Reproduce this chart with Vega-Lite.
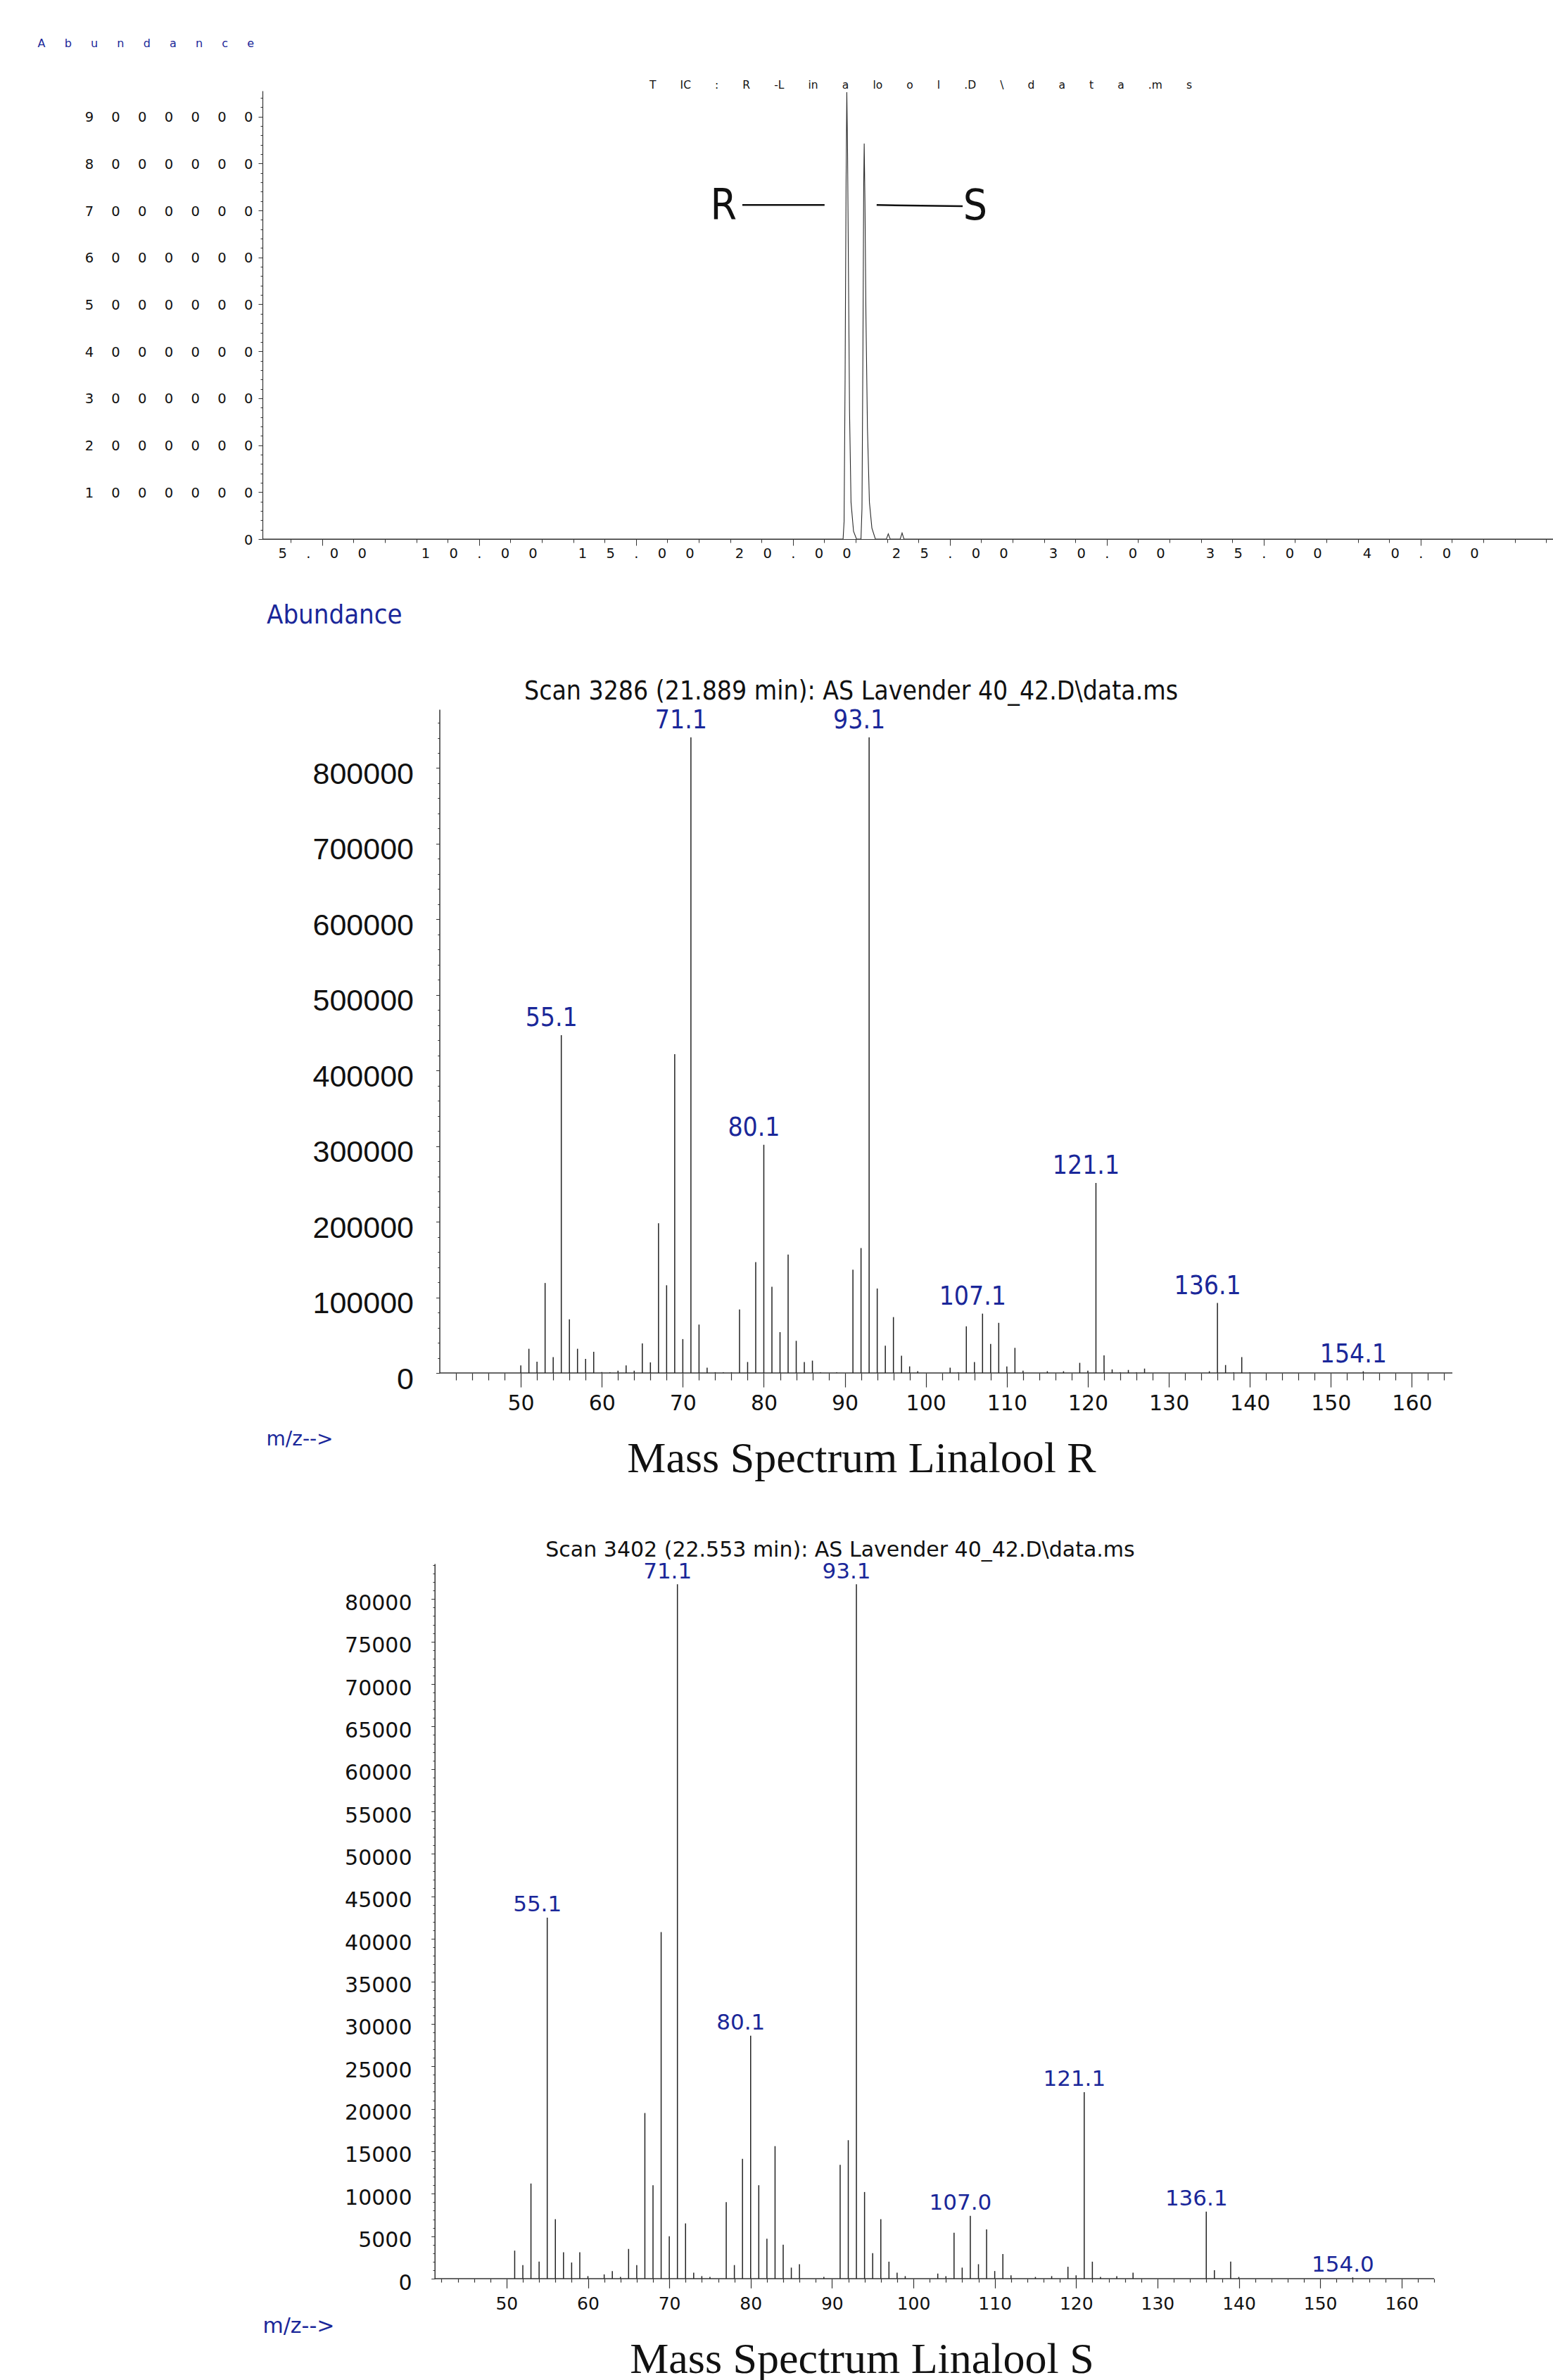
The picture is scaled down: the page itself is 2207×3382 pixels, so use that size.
{
  "$schema": "https://vega.github.io/schema/vega-lite/v6.json",
  "padding": {"left": 53, "top": 53, "right": 0, "bottom": 0},
  "background": "white",
  "usermeta": {"embedOptions": {"actions": false}},
  "config": {"view": {"stroke": null}, "axis": {"grid": false, "labelLimit": 600}},
  "datasets": {
    "tic": [
      {"t": 3.1, "a": 0}, {"t": 21.6, "a": 0}, {"t": 21.632, "a": 372000}, {"t": 21.664, "a": 3400000},
      {"t": 21.695, "a": 7530000}, {"t": 21.719, "a": 9520000}, {"t": 21.743, "a": 8220000}, {"t": 21.774, "a": 5470000},
      {"t": 21.806, "a": 2710000}, {"t": 21.853, "a": 785000}, {"t": 21.933, "a": 166000}, {"t": 22.028, "a": 0},
      {"t": 22.17, "a": 0}, {"t": 22.202, "a": 648000}, {"t": 22.233, "a": 4090000}, {"t": 22.257, "a": 7530000},
      {"t": 22.273, "a": 8426000}, {"t": 22.297, "a": 7190000}, {"t": 22.328, "a": 4780000}, {"t": 22.376, "a": 2370000},
      {"t": 22.439, "a": 785000}, {"t": 22.518, "a": 235000}, {"t": 22.629, "a": 0},
      {"t": 22.98, "a": 0}, {"t": 23.04, "a": 110000}, {"t": 23.1, "a": 0},
      {"t": 23.42, "a": 0}, {"t": 23.48, "a": 130000}, {"t": 23.54, "a": 0}, {"t": 44.22, "a": 0}
    ],
    "ticLines": [
      {"x1": 18.39, "x2": 21.01, "y1": 7117000, "y2": 7117000},
      {"x1": 22.67, "x2": 25.41, "y1": 7117000, "y2": 7090000}
    ],
    "ticText": [
      {"t": 17.79, "a": 6807000, "label": "R"},
      {"t": 25.81, "a": 6807000, "label": "S"}
    ],
    "baseR": [{"x1": 40, "x2": 165, "y": 0}],
    "baseS": [{"x1": 41.17, "x2": 164, "y": 0}],
    "msR": [
      {"mz": 50, "ab": 9900}, {"mz": 51, "ab": 32000}, {"mz": 52, "ab": 15000}, {"mz": 53, "ab": 119000},
      {"mz": 54, "ab": 21000}, {"mz": 55, "ab": 446700, "label": "55.1"}, {"mz": 56, "ab": 71000}, {"mz": 57, "ab": 32000},
      {"mz": 58, "ab": 18600}, {"mz": 59, "ab": 28000}, {"mz": 60, "ab": 1200}, {"mz": 61, "ab": 1000},
      {"mz": 62, "ab": 3000}, {"mz": 63, "ab": 10000}, {"mz": 64, "ab": 3000}, {"mz": 65, "ab": 39000},
      {"mz": 66, "ab": 14000}, {"mz": 67, "ab": 198000}, {"mz": 68, "ab": 116000}, {"mz": 69, "ab": 421700},
      {"mz": 70, "ab": 44800}, {"mz": 71, "ab": 840600, "label": "71.1"}, {"mz": 72, "ab": 64000}, {"mz": 73, "ab": 7000},
      {"mz": 74, "ab": 1000}, {"mz": 75, "ab": 1000}, {"mz": 76, "ab": 1000}, {"mz": 77, "ab": 84000},
      {"mz": 78, "ab": 14500}, {"mz": 79, "ab": 146600}, {"mz": 80, "ab": 301900, "label": "80.1"}, {"mz": 81, "ab": 114000},
      {"mz": 82, "ab": 54000}, {"mz": 83, "ab": 156500}, {"mz": 84, "ab": 42500}, {"mz": 85, "ab": 14500},
      {"mz": 86, "ab": 16300}, {"mz": 87, "ab": 1000}, {"mz": 89, "ab": 1000}, {"mz": 91, "ab": 136700},
      {"mz": 92, "ab": 165200}, {"mz": 93, "ab": 840600, "label": "93.1"}, {"mz": 94, "ab": 111700}, {"mz": 95, "ab": 36000},
      {"mz": 96, "ab": 73900}, {"mz": 97, "ab": 22700}, {"mz": 98, "ab": 8700}, {"mz": 99, "ab": 2300},
      {"mz": 103, "ab": 7000}, {"mz": 104, "ab": 1000}, {"mz": 105, "ab": 61700}, {"mz": 106, "ab": 14500},
      {"mz": 107, "ab": 78500, "label": "107.1"}, {"mz": 108, "ab": 38400}, {"mz": 109, "ab": 66300}, {"mz": 110, "ab": 8700},
      {"mz": 111, "ab": 33200}, {"mz": 112, "ab": 3000}, {"mz": 115, "ab": 2300}, {"mz": 117, "ab": 2300},
      {"mz": 119, "ab": 13400}, {"mz": 120, "ab": 3000}, {"mz": 121, "ab": 251300, "label": "121.1"}, {"mz": 122, "ab": 23300},
      {"mz": 123, "ab": 4700}, {"mz": 124, "ab": 1000}, {"mz": 125, "ab": 4000}, {"mz": 126, "ab": 1000},
      {"mz": 127, "ab": 5800}, {"mz": 135, "ab": 2300}, {"mz": 136, "ab": 92500, "label": "136.1"}, {"mz": 137, "ab": 10500},
      {"mz": 138, "ab": 1000}, {"mz": 139, "ab": 21000}, {"mz": 140, "ab": 1000}, {"mz": 154, "ab": 2300, "label": "154.1"}
    ],
    "msS": [
      {"mz": 51, "ab": 3300}, {"mz": 52, "ab": 1600}, {"mz": 53, "ab": 11200}, {"mz": 54, "ab": 2000},
      {"mz": 55, "ab": 42500, "label": "55.1"}, {"mz": 56, "ab": 7000}, {"mz": 57, "ab": 3100}, {"mz": 58, "ab": 1900},
      {"mz": 59, "ab": 3100}, {"mz": 60, "ab": 300}, {"mz": 62, "ab": 500}, {"mz": 63, "ab": 900},
      {"mz": 64, "ab": 200}, {"mz": 65, "ab": 3500}, {"mz": 66, "ab": 1600}, {"mz": 67, "ab": 19500},
      {"mz": 68, "ab": 11000}, {"mz": 69, "ab": 40800}, {"mz": 70, "ab": 5000}, {"mz": 71, "ab": 81750, "label": "71.1"},
      {"mz": 72, "ab": 6500}, {"mz": 73, "ab": 700}, {"mz": 74, "ab": 300}, {"mz": 75, "ab": 200},
      {"mz": 77, "ab": 9000}, {"mz": 78, "ab": 1600}, {"mz": 79, "ab": 14100}, {"mz": 80, "ab": 28600, "label": "80.1"},
      {"mz": 81, "ab": 11000}, {"mz": 82, "ab": 4700}, {"mz": 83, "ab": 15600}, {"mz": 84, "ab": 4000},
      {"mz": 85, "ab": 1300}, {"mz": 86, "ab": 1700}, {"mz": 89, "ab": 200}, {"mz": 91, "ab": 13400},
      {"mz": 92, "ab": 16300}, {"mz": 93, "ab": 81750, "label": "93.1"}, {"mz": 94, "ab": 10200}, {"mz": 95, "ab": 3000},
      {"mz": 96, "ab": 7000}, {"mz": 97, "ab": 2000}, {"mz": 98, "ab": 700}, {"mz": 99, "ab": 300},
      {"mz": 103, "ab": 600}, {"mz": 104, "ab": 300}, {"mz": 105, "ab": 5400}, {"mz": 106, "ab": 1300},
      {"mz": 107, "ab": 7400, "label": "107.0"}, {"mz": 108, "ab": 1700}, {"mz": 109, "ab": 5800}, {"mz": 110, "ab": 900},
      {"mz": 111, "ab": 2900}, {"mz": 112, "ab": 400}, {"mz": 115, "ab": 200}, {"mz": 117, "ab": 300},
      {"mz": 119, "ab": 1400}, {"mz": 120, "ab": 400}, {"mz": 121, "ab": 21960, "label": "121.1"}, {"mz": 122, "ab": 2000},
      {"mz": 123, "ab": 200}, {"mz": 125, "ab": 300}, {"mz": 127, "ab": 700}, {"mz": 136, "ab": 7900, "label": "136.1"},
      {"mz": 137, "ab": 1000}, {"mz": 139, "ab": 2000}, {"mz": 140, "ab": 200}, {"mz": 154, "ab": 150, "label": "154.0"}
    ]
  },
  "spacing": 242,
  "bounds": "flush",
  "vconcat": [
    {
      "width": 1834,
      "height": 637,
      "resolve": {"axis": {"x": "independent", "y": "independent"}},
      "layer": [
        {
          "data": {"name": "tic"},
          "mark": {"type": "line", "stroke": "#2b2b2b", "strokeWidth": 1.1},
          "encoding": {
            "x": {
              "field": "t", "type": "quantitative",
              "scale": {"domain": [3.1, 44.22], "nice": false, "zero": false},
              "axis": {
                "orient": "bottom",
                "values": [4,5,6,7,8,9,10,11,12,13,14,15,16,17,18,19,20,21,22,23,24,25,26,27,28,29,30,31,32,33,34,35,36,37,38,39,40,41,42,43,44],
                "labelExpr": "datum.value % 5 === 0 ? join(split(format(datum.value, '.2f'), ''), '\u2003\u2009\u2009') : ''",
                "tickSize": {"condition": {"test": "datum.value % 5 === 0", "value": 9}, "value": 5},
                "tickColor": "#333", "tickWidth": 1, "domainColor": "#333", "domainWidth": 1.2,
                "labelFont": "DejaVu Sans", "labelFontSize": 19.5, "labelColor": "#111",
                "labelBaseline": "top", "labelPadding": 2.6, "labelLimit": 600,
                "labelOverlap": false, "labelBound": false, "labelFlush": false,
                "title": null, "grid": false
              }
            },
            "y": {
              "field": "a", "type": "quantitative",
              "scale": {"domain": [0, 9550000], "nice": false},
              "axis": {
                "orient": "left",
                "values": [0,200000,400000,600000,800000,1000000,1200000,1400000,1600000,1800000,2000000,2200000,2400000,2600000,2800000,3000000,3200000,3400000,3600000,3800000,4000000,4200000,4400000,4600000,4800000,5000000,5200000,5400000,5600000,5800000,6000000,6200000,6400000,6600000,6800000,7000000,7200000,7400000,7600000,7800000,8000000,8200000,8400000,8600000,8800000,9000000,9200000,9400000],
                "labelExpr": "datum.value % 1000000 === 0 ? join(split(format(datum.value, 'd'), ''), '\u2003\u2009\u200A') : ''",
                "tickSize": {"condition": {"test": "datum.value % 1000000 === 0", "value": 6}, "value": 3},
                "tickColor": "#333", "tickWidth": 1, "domainColor": "#333", "domainWidth": 1.2,
                "labelFont": "DejaVu Sans", "labelFontSize": 19.5, "labelColor": "#111",
                "labelBaseline": "middle", "labelAlign": "right", "labelPadding": 8, "labelOffset": 1, "labelLimit": 600,
                "labelOverlap": false, "labelBound": false, "labelFlush": false,
                "title": "A\u2003\u2002\u2009b\u2003\u2002\u2009u\u2003\u2002\u2009n\u2003\u2002\u2009d\u2003\u2002\u2009a\u2003\u2002\u2009n\u2003\u2002\u2009c\u2003\u2002\u2009e",
                "titleX": -320, "titleY": -63, "titleAngle": 0, "titleAlign": "left", "titleBaseline": "alphabetic",
                "titleFont": "DejaVu Sans", "titleFontSize": 16, "titleFontWeight": "normal", "titleColor": "#1a2799",
                "titleLimit": 1000, "grid": false
              }
            }
          }
        },
        {
          "data": {"name": "ticLines"},
          "mark": {"type": "rule", "stroke": "#111", "strokeWidth": 2.5},
          "encoding": {
            "x": {"field": "x1", "type": "quantitative", "scale": {"domain": [3.1, 44.22], "nice": false, "zero": false}, "axis": null},
            "x2": {"field": "x2"},
            "y": {"field": "y1", "type": "quantitative", "scale": {"domain": [0, 9550000], "nice": false}, "axis": null},
            "y2": {"field": "y2"}
          }
        },
        {
          "data": {"name": "ticText"},
          "mark": {"type": "text", "font": "Liberation Sans Narrow, DejaVu Sans Condensed, Liberation Sans", "fontSize": 60, "baseline": "alphabetic", "align": "center", "color": "#111"},
          "encoding": {
            "x": {
              "field": "t", "type": "quantitative",
              "scale": {"domain": [3.1, 44.22], "nice": false, "zero": false},
              "axis": {
                "orient": "top", "domain": false, "ticks": false, "labels": false, "grid": false,
                "title": "T\u2003\u2003\u2009IC\u2003\u2003\u2009:\u2003\u2003\u2009R\u2003\u2003\u2009-L\u2003\u2003\u2009in\u2003\u2003\u2009a\u2003\u2003\u2009lo\u2003\u2003\u2009o\u2003\u2003\u2009l\u2003\u2003\u2009.D\u2003\u2003\u2009\\\u2003\u2003\u2009d\u2003\u2003\u2009a\u2003\u2003\u2009t\u2003\u2003\u2009a\u2003\u2003\u2009.m\u2003\u2003\u2009s",
                "titleX": 935, "titleY": -4, "titleAngle": 0, "titleAlign": "center", "titleBaseline": "alphabetic",
                "titleFont": "DejaVu Sans", "titleFontSize": 15.5, "titleFontWeight": "normal", "titleColor": "#111",
                "titleLimit": 2000
              }
            },
            "y": {"field": "a", "type": "quantitative", "scale": {"domain": [0, 9550000], "nice": false}, "axis": null},
            "text": {"field": "label"}
          }
        }
      ]
    },
    {
      "spacing": 271,
      "bounds": "flush",
      "vconcat": [
        {
          "width": 1691,
          "height": 943,
          "resolve": {"axis": {"x": "independent", "y": "independent"}},
          "layer": [
            {
              "data": {"name": "baseR"},
              "mark": {"type": "rule", "stroke": "#333", "strokeWidth": 1.5},
              "encoding": {
                "x": {"field": "x1", "type": "quantitative", "scale": {"domain": [18.11, 165], "nice": false, "zero": false}, "axis": null},
                "x2": {"field": "x2"},
                "y": {"field": "y", "type": "quantitative", "scale": {"domain": [0, 877700], "nice": false}, "axis": null}
              }
            },
            {
              "data": {"name": "msR"},
              "mark": {"type": "rule", "stroke": "#222", "strokeWidth": 1.5},
              "encoding": {
                "x": {
                  "field": "mz", "type": "quantitative",
                  "scale": {"domain": [18.11, 165], "nice": false, "zero": false},
                  "axis": {
                    "orient": "bottom", "domain": false,
                    "values": [42,44,46,48,50,52,54,56,58,60,62,64,66,68,70,72,74,76,78,80,82,84,86,88,90,92,94,96,98,100,102,104,106,108,110,112,114,116,118,120,122,124,126,128,130,132,134,136,138,140,142,144,146,148,150,152,154,156,158,160,162,164],
                    "labelExpr": "datum.value % 10 === 0 ? format(datum.value, 'd') : ''",
                    "tickSize": {"condition": {"test": "datum.value % 10 === 0", "value": 20}, "value": 10},
                    "tickColor": "#333", "tickWidth": 1.2,
                    "labelFont": "DejaVu Sans", "labelFontSize": 30, "labelColor": "#111",
                    "labelBaseline": "top", "labelPadding": 8.7,
                    "labelOverlap": false, "labelBound": false, "labelFlush": false, "grid": false,
                    "title": "Mass Spectrum Linalool R",
                    "titleX": 851, "titleY": 140, "titleAngle": 0, "titleAlign": "center", "titleBaseline": "alphabetic",
                    "titleFont": "Liberation Serif", "titleFontSize": 62, "titleFontWeight": "normal", "titleColor": "#111",
                    "titleLimit": 2000
                  }
                },
                "y": {
                  "field": "ab", "type": "quantitative",
                  "scale": {"domain": [0, 877700], "nice": false},
                  "axis": {
                    "orient": "left", "offset": -251.5,
                    "values": [0,20000,40000,60000,80000,100000,120000,140000,160000,180000,200000,220000,240000,260000,280000,300000,320000,340000,360000,380000,400000,420000,440000,460000,480000,500000,520000,540000,560000,580000,600000,620000,640000,660000,680000,700000,720000,740000,760000,780000,800000,820000,840000,860000],
                    "labelExpr": "datum.value % 100000 === 0 ? format(datum.value, 'd') : ''",
                    "tickSize": {"condition": {"test": "datum.value % 100000 === 0", "value": 5}, "value": 2.7},
                    "tickColor": "#333", "tickWidth": 1, "domainColor": "#333", "domainWidth": 1.5,
                    "labelFont": "Liberation Sans", "labelFontSize": 43, "labelColor": "#111",
                    "labelBaseline": "middle", "labelAlign": "right", "labelPadding": 32, "labelOffset": 9,
                    "labelOverlap": false, "labelBound": false, "labelFlush": false, "grid": false,
                    "title": "Abundance",
                    "titleX": -246, "titleY": -122.3, "titleAngle": 0, "titleAlign": "left", "titleBaseline": "alphabetic",
                    "titleFont": "Liberation Sans Narrow, DejaVu Sans Condensed, Liberation Sans", "titleFontSize": 38, "titleFontWeight": "normal", "titleColor": "#1a2799",
                    "titleLimit": 1000
                  }
                },
                "y2": {"datum": 0}
              }
            },
            {
              "data": {"name": "msR"},
              "transform": [{"filter": "datum.label"}],
              "mark": {"type": "text", "font": "Liberation Sans Narrow, DejaVu Sans Condensed, Liberation Sans", "fontSize": 37, "color": "#1a2799", "align": "center", "baseline": "alphabetic", "dx": -14, "dy": -13},
              "encoding": {
                "x": {
                  "field": "mz", "type": "quantitative",
                  "scale": {"domain": [18.11, 165], "nice": false, "zero": false},
                  "axis": {
                    "orient": "top", "domain": false, "ticks": false, "labels": false, "grid": false,
                    "title": "Scan 3286 (21.889 min): AS Lavender 40_42.D\\data.ms",
                    "titleX": 836, "titleY": -15, "titleAngle": 0, "titleAlign": "center", "titleBaseline": "alphabetic",
                    "titleFont": "Liberation Sans Narrow, DejaVu Sans Condensed, Liberation Sans", "titleFontSize": 37, "titleFontWeight": "normal", "titleColor": "#111",
                    "titleLimit": 2000
                  }
                },
                "y": {
                  "field": "ab", "type": "quantitative",
                  "scale": {"domain": [0, 877700], "nice": false},
                  "axis": {
                    "orient": "right", "domain": false, "ticks": false, "labels": false, "grid": false,
                    "title": "m/z-->",
                    "titleX": -1686, "titleY": 1037, "titleAngle": 0, "titleAlign": "left", "titleBaseline": "middle",
                    "titleFont": "DejaVu Sans", "titleFontSize": 28, "titleFontWeight": "normal", "titleColor": "#1a2799"
                  }
                },
                "text": {"field": "label"}
              }
            }
          ]
        },
        {
          "width": 1665,
          "height": 1016,
          "resolve": {"axis": {"x": "independent", "y": "independent"}},
          "layer": [
            {
              "data": {"name": "baseS"},
              "mark": {"type": "rule", "stroke": "#333", "strokeWidth": 1.5},
              "encoding": {
                "x": {"field": "x1", "type": "quantitative", "scale": {"domain": [20, 164], "nice": false, "zero": false}, "axis": null},
                "x2": {"field": "x2"},
                "y": {"field": "y", "type": "quantitative", "scale": {"domain": [0, 84170], "nice": false}, "axis": null}
              }
            },
            {
              "data": {"name": "msS"},
              "mark": {"type": "rule", "stroke": "#222", "strokeWidth": 1.5},
              "encoding": {
                "x": {
                  "field": "mz", "type": "quantitative",
                  "scale": {"domain": [20, 164], "nice": false, "zero": false},
                  "axis": {
                    "orient": "bottom", "domain": false,
                    "values": [42,44,46,48,50,52,54,56,58,60,62,64,66,68,70,72,74,76,78,80,82,84,86,88,90,92,94,96,98,100,102,104,106,108,110,112,114,116,118,120,122,124,126,128,130,132,134,136,138,140,142,144,146,148,150,152,154,156,158,160,162,164],
                    "labelExpr": "datum.value % 10 === 0 ? format(datum.value, 'd') : ''",
                    "tickSize": {"condition": {"test": "datum.value % 10 === 0", "value": 13.3}, "value": 5},
                    "tickColor": "#333", "tickWidth": 1.2,
                    "labelFont": "DejaVu Sans", "labelFontSize": 25, "labelColor": "#111",
                    "labelBaseline": "top", "labelPadding": 10.2,
                    "labelOverlap": false, "labelBound": false, "labelFlush": false, "grid": false,
                    "title": "Mass Spectrum Linalool S",
                    "titleX": 851.5, "titleY": 133, "titleAngle": 0, "titleAlign": "center", "titleBaseline": "alphabetic",
                    "titleFont": "Liberation Serif", "titleFontSize": 62, "titleFontWeight": "normal", "titleColor": "#111",
                    "titleLimit": 2000
                  }
                },
                "y": {
                  "field": "ab", "type": "quantitative",
                  "scale": {"domain": [0, 84170], "nice": false},
                  "axis": {
                    "orient": "left", "offset": -244.7,
                    "values": [0,1000,2000,3000,4000,5000,6000,7000,8000,9000,10000,11000,12000,13000,14000,15000,16000,17000,18000,19000,20000,21000,22000,23000,24000,25000,26000,27000,28000,29000,30000,31000,32000,33000,34000,35000,36000,37000,38000,39000,40000,41000,42000,43000,44000,45000,46000,47000,48000,49000,50000,51000,52000,53000,54000,55000,56000,57000,58000,59000,60000,61000,62000,63000,64000,65000,66000,67000,68000,69000,70000,71000,72000,73000,74000,75000,76000,77000,78000,79000,80000,81000,82000,83000,84000],
                    "labelExpr": "datum.value % 5000 === 0 ? format(datum.value, 'd') : ''",
                    "tickSize": {"condition": {"test": "datum.value % 5000 === 0", "value": 5}, "value": 2.7},
                    "tickColor": "#333", "tickWidth": 1, "domainColor": "#333", "domainWidth": 1.5,
                    "labelFont": "DejaVu Sans", "labelFontSize": 30, "labelColor": "#111",
                    "labelBaseline": "middle", "labelAlign": "right", "labelPadding": 27.7, "labelOffset": 6,
                    "labelOverlap": false, "labelBound": false, "labelFlush": false, "grid": false,
                    "title": null
                  }
                },
                "y2": {"datum": 0}
              }
            },
            {
              "data": {"name": "msS"},
              "transform": [{"filter": "datum.label"}],
              "mark": {"type": "text", "font": "DejaVu Sans", "fontSize": 31, "color": "#1a2799", "align": "center", "baseline": "alphabetic", "dx": -14, "dy": -8.5},
              "encoding": {
                "x": {
                  "field": "mz", "type": "quantitative",
                  "scale": {"domain": [20, 164], "nice": false, "zero": false},
                  "axis": {
                    "orient": "top", "domain": false, "ticks": false, "labels": false, "grid": false,
                    "title": "Scan 3402 (22.553 min): AS Lavender 40_42.D\\data.ms",
                    "titleX": 820.5, "titleY": -11, "titleAngle": 0, "titleAlign": "center", "titleBaseline": "alphabetic",
                    "titleFont": "DejaVu Sans", "titleFontSize": 30, "titleFontWeight": "normal", "titleColor": "#111",
                    "titleLimit": 2000
                  }
                },
                "y": {
                  "field": "ab", "type": "quantitative",
                  "scale": {"domain": [0, 84170], "nice": false},
                  "axis": {
                    "orient": "right", "domain": false, "ticks": false, "labels": false, "grid": false,
                    "title": "m/z-->",
                    "titleX": -1665, "titleY": 1083, "titleAngle": 0, "titleAlign": "left", "titleBaseline": "middle",
                    "titleFont": "DejaVu Sans", "titleFontSize": 30, "titleFontWeight": "normal", "titleColor": "#1a2799"
                  }
                },
                "text": {"field": "label"}
              }
            }
          ]
        }
      ]
    }
  ]
}
